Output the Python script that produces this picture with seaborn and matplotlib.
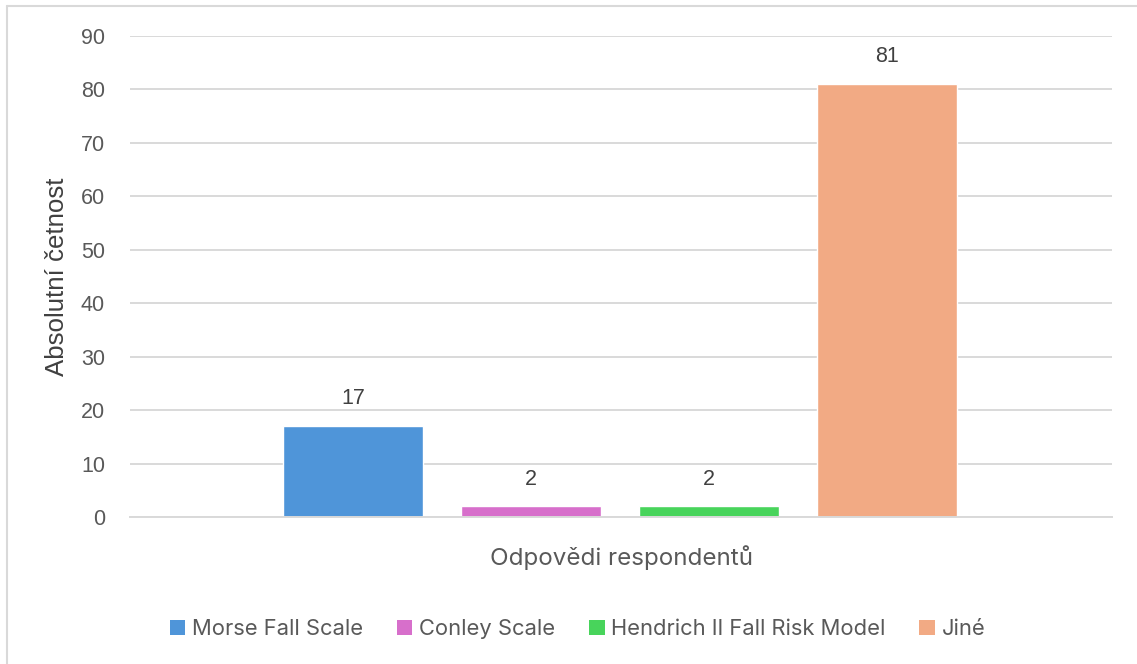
import matplotlib
matplotlib.use("Agg")
import matplotlib.pyplot as plt
import seaborn as sns
import pandas as pd
from matplotlib.lines import Line2D
from matplotlib.patches import Patch

categories = ["Morse Fall Scale", "Conley Scale", "Hendrich II Fall Risk Model", "Jiné"]
values = [17, 2, 2, 81]
colors = ["#4F95D9", "#D76FCB", "#48D45B", "#F2AA84"]
yticks = [0, 10, 20, 30, 40, 50, 60, 70, 80, 90]

sns.set_theme(style="white")
plt.rcParams["font.family"] = ["Liberation Sans", "DejaVu Sans"]

df = pd.DataFrame({"cat": categories, "val": values})

fig = plt.figure(figsize=(11.37, 6.64), dpi=100)
ax = fig.add_axes([130/1137, 1-517/664, (1112-130)/1137, (517-36)/664])

sns.barplot(data=df, x="cat", y="val", hue="cat", palette=colors, order=categories,
            hue_order=categories, width=0.79, dodge=False, legend=False, ax=ax,
            saturation=1)

ax.set_xlim(-1.253, 4.264)
ax.set_ylim(0, 90)
ax.set_yticks(yticks)
ax.set_yticklabels([str(t) for t in yticks])
ax.set_xticks([])
ax.grid(axis="y", color="#d9d9d9", linewidth=1.4)
ax.set_axisbelow(True)
for s in ["top", "right", "left"]:
    ax.spines[s].set_visible(False)
ax.spines["bottom"].set_color("#d9d9d9")
ax.spines["bottom"].set_linewidth(1.4)
ax.tick_params(axis="y", length=0, pad=18, labelsize=15.5, labelcolor="#595959")

for cont in ax.containers:
    ax.bar_label(cont, padding=12, fontsize=15.5, color="#404040")

ax.set_ylabel("Absolutní četnost", fontsize=18.6, color="#404040", va="center")
ax.yaxis.set_label_coords((57-130)/982, 0.5)
ax.set_xlabel("Odpovědi respondentů", fontsize=17.4, color="#595959", va="center",
              family=["Inter", "DejaVu Sans"])
ax.xaxis.set_label_coords(0.5, -41/481)

handles = [Patch(facecolor=c, edgecolor="none") for c in colors]
leg = fig.legend(handles, categories, loc="center", bbox_to_anchor=(0.508, 1-629/664),
                 ncol=4, frameon=False, handlelength=0.7, handleheight=0.7,
                 handletextpad=0.3, columnspacing=1.55,
                 prop={"family": ["Inter", "DejaVu Sans"], "size": 15.8})
for t in leg.get_texts():
    t.set_color("#595959")

# chart border (left and top edges visible)
fig.add_artist(Line2D([7/1137, 7/1137], [0, 1-6/664], transform=fig.transFigure,
                      color="#d9d9d9", linewidth=1.5))
fig.add_artist(Line2D([7/1137, 1], [1-6/664, 1-6/664], transform=fig.transFigure,
                      color="#d9d9d9", linewidth=1.5))

fig.savefig("out.png", dpi=100)
